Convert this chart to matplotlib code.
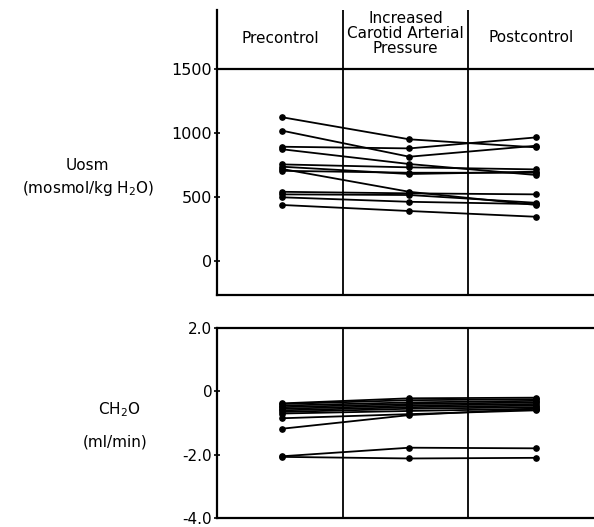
import matplotlib
matplotlib.use("Agg")
import matplotlib.pyplot as plt

phases = ["Precontrol", "Increased\nCarotid Arterial\nPressure", "Postcontrol"]

# Uosm (mosmol/kg H2O) per subject: precontrol, increased CAP, postcontrol
uosm = [
    [1123, 951, 888],
    [1018, 815, 901],
    [893, 880, 966],
    [873, 758, 672],
    [755, 732, 716],
    [737, 680, 698],
    [719, 541, 438],
    [705, 690, 690],
    [541, 529, 521],
    [521, 516, 455],
    [498, 463, 445],
    [438, 391, 346],
]

# CH2O (ml/min) per subject
ch2o = [
    [-0.38, -0.22, -0.20],
    [-0.40, -0.28, -0.25],
    [-0.45, -0.35, -0.30],
    [-0.50, -0.40, -0.35],
    [-0.55, -0.45, -0.40],
    [-0.60, -0.50, -0.45],
    [-0.65, -0.55, -0.50],
    [-0.70, -0.62, -0.55],
    [-0.85, -0.72, -0.60],
    [-1.18, -0.75, -0.55],
    [-2.05, -1.78, -1.80],
    [-2.07, -2.12, -2.10],
]

uosm_ticks = [0, 500, 1000, 1500]
uosm_ticklabels = ["0", "500", "1000", "1500"]
ch2o_ticks = [-4.0, -2.0, 0, 2.0]
ch2o_ticklabels = ["-4.0", "-2.0", "0", "2.0"]

W, H = 594, 527
fig = plt.figure(figsize=(W / 100, H / 100), dpi=100)
plt.rcParams['font.family'] = ['DejaVu Sans']

xpos = [0.52, 1.53, 2.54]
lw_axis = 1.6

def fx(px):
    return px / W

def fy(py):
    return 1 - py / H

# top panel
ax1 = fig.add_axes([fx(217), fy(295), fx(594) - fx(217), fy(10) - fy(295)])
ax1.set_xlim(0, 3)
ax1.set_ylim(-265, 1961)
for s in uosm:
    ax1.plot(xpos, s, color="black", lw=1.3, marker="o", ms=3.8, solid_capstyle="round")
ax1.axhline(1500, color="black", lw=lw_axis)
for d in (1.0, 2.0):
    ax1.axvline(d, color="black", lw=1.3)
ax1.spines["top"].set_visible(False)
ax1.spines["right"].set_visible(False)
ax1.spines["left"].set_linewidth(lw_axis)
ax1.spines["bottom"].set_linewidth(lw_axis)
ax1.set_xticks([])
ax1.set_yticks(uosm_ticks)
ax1.set_yticklabels(uosm_ticklabels, fontsize=11.5)
ax1.tick_params(axis="y", direction="inout", length=5, width=1.2, pad=1)
# headers
ax1.text(0.5, 1735, phases[0], ha="center", va="center", fontsize=11)
ax1.text(1.5, 1775, phases[1], ha="center", va="center", fontsize=11, linespacing=1.0)
ax1.text(2.5, 1750, phases[2], ha="center", va="center", fontsize=11)

fig.text(fx(87), fy(166), "Uosm", ha="center", va="center", fontsize=11)
fig.text(fx(88), fy(188), "(mosmol/kg H$_2$O)", ha="center", va="center", fontsize=11)

# bottom panel
ax2 = fig.add_axes([fx(217), fy(518), fx(594) - fx(217), fy(328) - fy(518)])
ax2.set_xlim(0, 3)
ax2.set_ylim(-4.0, 2.0)
for s in ch2o:
    ax2.plot(xpos, s, color="black", lw=1.3, marker="o", ms=3.8)
for d in (1.0, 2.0):
    ax2.axvline(d, color="black", lw=1.3)
ax2.spines["right"].set_visible(False)
for k in ("left", "bottom", "top"):
    ax2.spines[k].set_linewidth(lw_axis)
ax2.set_xticks([])
ax2.set_yticks(ch2o_ticks)
ax2.set_yticklabels(ch2o_ticklabels, fontsize=11)
ax2.tick_params(axis="y", direction="inout", length=5, width=1.2, pad=1)

fig.text(fx(119), fy(410), "CH$_2$O", ha="center", va="center", fontsize=11)
fig.text(fx(115), fy(442), "(ml/min)", ha="center", va="center", fontsize=11)

fig.savefig("out.png", dpi=100)
